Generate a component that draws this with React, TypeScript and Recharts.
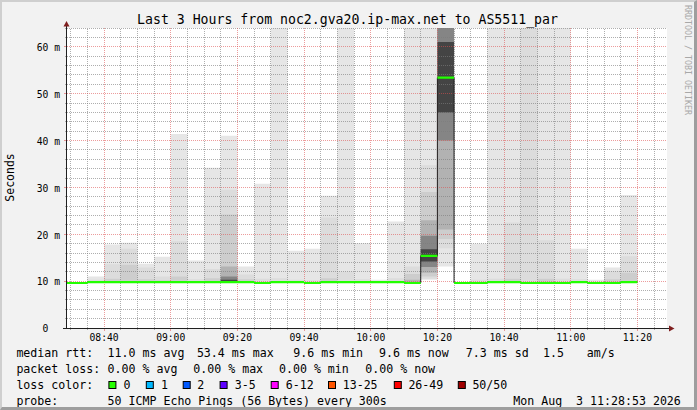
import React from "react";
import { ComposedChart, Area, Line, XAxis, YAxis, CartesianGrid, ReferenceLine } from "recharts";

// ---------- data ----------
const rangeStart = "08:28:53";
const rangeEnd = "11:28:53";
const stepStarts = [
  "08:28:53", "08:35", "08:40", "08:45", "08:50", "08:55", "09:00", "09:05", "09:10", "09:15",
  "09:20", "09:25", "09:30", "09:35", "09:40", "09:45", "09:50", "09:55", "10:00", "10:05",
  "10:10", "10:15", "10:20", "10:25", "10:30", "10:35", "10:40", "10:45", "10:50", "10:55",
  "11:00", "11:05", "11:10", "11:15",
];
const stepEnd = "11:20";

// median rtt (ms)
const medianRtt = [
  9.6, 9.8, 9.8, 9.8, 9.8, 9.8, 9.8, 9.8, 9.8, 9.8,
  9.8, 9.6, 9.8, 9.8, 9.6, 9.8, 9.8, 9.8, 9.8, 9.8,
  9.6, 15.4, 53.4, 9.6, 9.6, 9.8, 9.8, 9.6, 9.6, 9.6,
  9.8, 9.6, 9.6, 9.8,
];

// smoke layers (outer -> inner), [low, high] in ms; null = no band
const smoke1 = [
  [9.5, 9.7], [9.6, 11.0], [9.6, 17.8], [9.6, 18.2], [9.6, 13.7], [9.6, 15.2], [9.6, 41.4], [9.6, 14.4], [9.6, 34.2], [9.6, 41.0],
  [9.6, 13.1], [9.4, 30.8], [9.6, 70], [9.6, 16.5], [9.4, 16.9], [9.6, 28.2], [9.6, 70], [9.6, 18.1], [9.6, 10.3], [9.6, 22.7],
  [9.4, 70], [10.3, 70], [13.1, 90], [9.4, 9.8], [9.4, 18.0], [9.6, 70], [9.6, 70], [9.4, 70], [9.4, 70], [9.4, 70],
  [9.6, 16.9], [9.4, 10.3], [9.4, 12.9], [9.6, 28.4],
];
const smoke2 = [
  null, [9.7, 10.3], [9.7, 13.6], [9.7, 16.9], [9.7, 12.9], [9.7, 11.0], [9.7, 18.5], [9.7, 10.4], [9.7, 12.6], [9.7, 29.5],
  [9.7, 11.4], [9.5, 10.5], [9.7, 10.6], [9.7, 10.3], [9.5, 10.2], [9.7, 23.6], [9.7, 12.0], [9.7, 10.4], null, [9.7, 10.6],
  [9.5, 13.1], [10.5, 34.7], [17, 90], null, [9.5, 10.3], [9.7, 10.5], [9.7, 22.5], [9.5, 70], [9.5, 18.7], [9.5, 10.5],
  [9.7, 10.4], null, [9.5, 12.1], [9.7, 15.3],
];
const smoke3 = [
  null, null, [9.7, 10.5], [9.7, 13.5], [9.7, 10.4], [9.7, 10.2], [9.7, 11.0], null, [9.7, 10.6], [9.7, 24.2],
  [9.7, 10.4], null, null, null, null, [9.7, 10.6], null, null, null, null,
  [9.5, 11.5], [11.0, 29.0], [19, 88], null, null, null, [9.7, 10.5], null, [9.5, 10.5], null,
  null, null, [9.5, 10.4], [9.7, 11.8],
];
const smoke4 = [
  null, null, null, null, null, null, null, null, null, [9.7, 13.1],
  null, null, null, null, null, null, null, null, null, null,
  [9.5, 10.3], [11.8, 23.0], [21, 85], null, null, null, null, null, null, null,
  null, null, null, null,
];
const smoke5 = [
  null, null, null, null, null, null, null, null, null, [9.7, 11.0],
  null, null, null, null, null, null, null, null, null, null,
  null, [13.0, 19.7], [40, 80], null, null, null, null, null, null, null,
  null, null, null, null,
];
const smoke6 = [
  null, null, null, null, null, null, null, null, null, [9.7, 10.3],
  null, null, null, null, null, null, null, null, null, null,
  null, [14.2, 16.8], [46, 61], null, null, null, null, null, null, null,
  null, null, null, null,
];

const yMajorTicks = [0, 10, 20, 30, 40, 50, 60];
const yTickLabels = ["0", "10 m", "20 m", "30 m", "40 m", "50 m", "60 m"];
const yMinorTicks = [2, 4, 6, 8, 12, 14, 16, 18, 22, 24, 26, 28, 32, 34, 36, 38, 42, 44, 46, 48, 52, 54, 56, 58, 62, 64];
const xMajorTicks = ["08:40", "09:00", "09:20", "09:40", "10:00", "10:20", "10:40", "11:00", "11:20"];
const xMinorTicks = [
  "08:30", "08:35", "08:45", "08:50", "08:55", "09:05", "09:10", "09:15", "09:25", "09:30", "09:35",
  "09:45", "09:50", "09:55", "10:05", "10:10", "10:15", "10:25", "10:30", "10:35", "10:45", "10:50",
  "10:55", "11:05", "11:10", "11:15", "11:25",
];

const title = "Last 3 Hours from noc2.gva20.ip-max.net to AS5511_par";
const rttStats = ["11.0 ms avg", "53.4 ms max", "9.6 ms min", "9.6 ms now", "7.3 ms sd", "1.5", "am/s"];
const lossStats = ["0.00 % avg", "0.00 % max", "0.00 % min", "0.00 % now"];
const lossLabels = ["0", "1", "2", "3-5", "6-12", "13-25", "26-49", "50/50"];
const lossColors = ["#26ff00", "#00b8ff", "#0059ff", "#5e00ff", "#ff00ff", "#ff5500", "#ff0000", "#a00000"];
const probeText = "50 ICMP Echo Pings (56 Bytes) every 300s";
const dateText = "Mon Aug  3 11:28:53 2026";

// ---------- layout / style ----------
const MONO = "'DejaVu Sans Mono', monospace";
const GRID = "rgba(125,125,125,0.62)";
const MGRID = "rgba(222,79,79,0.56)";
const smokeColors = ["#e6e6e6", "#dcdcdc", "#cdcdcd", "#b2b2b2", "#858585", "#444444"];
const rttStatX = [107.6, 196.9, 293.3, 379, 465.8, 543, 586.7];
const lossStatX = [107.6, 193.3, 279, 365.3];
const lossBoxX = [108.4, 145.8, 182.7, 219.6, 270.7, 328, 393.8, 457.8];
const lossLabelX = [123.6, 161, 197.3, 234.7, 285.8, 342.7, 408.4, 472.4];
const rowY = [353, 369, 385, 400.5];

const toMin = (s: string) => {
  const p = s.split(":").map(Number);
  return p[0] * 60 + p[1] + (p[2] || 0) / 60 - 480;
};

const layers = [smoke1, smoke2, smoke3, smoke4, smoke5, smoke6];
const rows: any[] = stepStarts.map((s, i) => {
  const r: any = { t: toMin(s), median: medianRtt[i] };
  layers.forEach((L, k) => {
    const v = L[i];
    r["s" + k] = v ? v : [medianRtt[i], medianRtt[i]];
  });
  return r;
});
rows.push({ ...rows[rows.length - 1], t: toMin(stepEnd) });

const greenData: any[] = [];
stepStarts.forEach((s, i) => {
  const t0 = toMin(s);
  const t1 = i < stepStarts.length - 1 ? toMin(stepStarts[i + 1]) : toMin(stepEnd);
  greenData.push({ t: t0, g: medianRtt[i] }, { t: t1, g: medianRtt[i] }, { t: t1, g: null });
});

const xMajorVals = xMajorTicks.map(toMin);
const xMinorVals = xMinorTicks.map(toMin);
const xAllTicks = [...xMinorVals, ...xMajorVals].sort((a, b) => a - b);
const yAllTicks = [...yMajorTicks, ...yMinorTicks].sort((a, b) => a - b);

const XTick = (props: any) => {
  const { x, y, payload } = props;
  const idx = xMajorVals.findIndex((m) => Math.abs(m - payload.value) < 1e-6);
  const major = idx >= 0;
  return (
    <g>
      <line x1={x} x2={x} y1={y} y2={y + (major ? 3 : 2)} stroke={major ? MGRID : GRID} shapeRendering="crispEdges" />
      {major && (
        <text x={x} y={y + 9.5} textAnchor="middle" dominantBaseline="central" fontFamily={MONO} fontSize={9.7} fill="#000">
          {xMajorTicks[idx]}
        </text>
      )}
    </g>
  );
};

const YTick = (props: any) => {
  const { x, y, payload } = props;
  const idx = yMajorTicks.indexOf(payload.value);
  const major = idx >= 0;
  const label = major ? yTickLabels[idx] : "";
  const pad = major && label.indexOf(" ") < 0 ? 11.7 : 0;
  return (
    <g>
      <line x1={x - (major ? 3 : 2)} x2={x} y1={y} y2={y} stroke={major ? MGRID : GRID} shapeRendering="crispEdges" />
      {major && (
        <text x={x - 7 - pad} y={y + 0.8} textAnchor="end" dominantBaseline="central" fontFamily={MONO} fontSize={9.7} fill="#000">
          {label}
        </text>
      )}
    </g>
  );
};

const css = `.recharts-cartesian-grid line, .recharts-reference-line line { shape-rendering: crispEdges; }`;

export default function App() {
  const x0 = toMin(rangeStart);
  const x1 = toMin(rangeEnd);
  return (
    <div style={{ position: "absolute", left: 0, top: 0, width: 697, height: 410, background: "#f2f2f2", overflow: "hidden" }}>
      <style>{css}</style>
      <ComposedChart width={697} height={410} data={rows} margin={{ top: 28, right: 30, bottom: 0, left: 0 }}>
        <CartesianGrid horizontal={false} vertical={false} fill="#ffffff" fillOpacity={1} />
        <XAxis
          type="number"
          dataKey="t"
          domain={[x0, x1]}
          allowDataOverflow
          ticks={xAllTicks}
          interval={0}
          height={82}
          axisLine={false}
          tickLine={false}
          tickSize={0}
          tickMargin={0}
          tick={<XTick />}
        />
        <YAxis
          type="number"
          domain={[0, 64]}
          allowDataOverflow
          ticks={yAllTicks}
          interval={0}
          width={67}
          axisLine={false}
          tickLine={false}
          tickSize={0}
          tickMargin={0}
          tick={<YTick />}
        />
        {layers.map((_, k) => (
          <Area
            key={"s" + k}
            dataKey={"s" + k}
            type="stepAfter"
            stroke="none"
            fill={smokeColors[k]}
            fillOpacity={1}
            dot={false}
            activeDot={false}
            isAnimationActive={false}
          />
        ))}
        {yMinorTicks.map((v) => (
          <ReferenceLine key={"hy" + v} y={v} stroke={GRID} strokeWidth={1} strokeDasharray="1 1" zIndex={150} />
        ))}
        {xMinorVals.map((v) => (
          <ReferenceLine key={"vx" + v} x={v} stroke={GRID} strokeWidth={1} strokeDasharray="1 1" zIndex={150} />
        ))}
        <CartesianGrid
          horizontalValues={yMajorTicks.filter((v) => v > 0)}
          verticalValues={xMajorVals}
          stroke={MGRID}
          strokeDasharray="1 1"
          zIndex={150}
        />
        <Line dataKey="median" type="stepAfter" stroke="#202020" strokeWidth={1} dot={false} activeDot={false} isAnimationActive={false} />
        <Line
          data={greenData}
          dataKey="g"
          type="linear"
          stroke="#22ff00"
          strokeWidth={2.2}
          dot={false}
          activeDot={false}
          connectNulls={false}
          isAnimationActive={false}
        />
      </ComposedChart>

      <svg width={697} height={410} style={{ position: "absolute", left: 0, top: 0, pointerEvents: "none" }}>
        <text x={347.5} y={19} textAnchor="middle" dominantBaseline="central" fontFamily={MONO} fontSize={13.2} fill="#000">
          {title}
        </text>
        <text
          x={10.3}
          y={177.5}
          textAnchor="middle"
          dominantBaseline="central"
          fontFamily={MONO}
          fontSize={11.5}
          fill="#000"
          transform="rotate(-90 10.3 177.5)"
        >
          Seconds
        </text>
        <text
          x={688}
          y={60}
          textAnchor="middle"
          dominantBaseline="central"
          fontFamily={MONO}
          fontSize={8.3}
          fill="#a8a8a8"
          transform="rotate(90 688 60)"
        >
          RRDTOOL / TOBI OETIKER
        </text>

        {/* axes */}
        <line x1={66.5} x2={66.5} y1={25} y2={329} stroke="#202020" strokeWidth={1} />
        <line x1={63} x2={670} y1={328.5} y2={328.5} stroke="#202020" strokeWidth={1} />
        <polygon points="63.5,26.5 69.5,26.5 66.5,21" fill="#7f1f1f" />
        <polygon points="669,325.5 669,331.5 674.5,328.5" fill="#7f1f1f" />

        {/* legend */}
        <g fontFamily={MONO} fontSize={11.6} fill="#000">
          <text x={16.4} y={rowY[0]} dominantBaseline="central">median rtt:</text>
          {rttStats.map((s, i) => (
            <text key={"r" + i} x={rttStatX[i]} y={rowY[0]} dominantBaseline="central">{s}</text>
          ))}
          <text x={16.4} y={rowY[1]} dominantBaseline="central">packet loss:</text>
          {lossStats.map((s, i) => (
            <text key={"l" + i} x={lossStatX[i]} y={rowY[1]} dominantBaseline="central">{s}</text>
          ))}
          <text x={16.4} y={rowY[2]} dominantBaseline="central">loss color:</text>
          {lossLabels.map((s, i) => (
            <g key={"c" + i}>
              <rect x={lossBoxX[i] + 0.5} y={rowY[2] - 3.5} width={7} height={7} fill={lossColors[i]} stroke="#000" strokeWidth={1} />
              <text x={lossLabelX[i]} y={rowY[2]} dominantBaseline="central">{s}</text>
            </g>
          ))}
          <text x={16.4} y={rowY[3]} dominantBaseline="central">probe:</text>
          <text x={107.6} y={rowY[3]} dominantBaseline="central">{probeText}</text>
          <text x={513.3} y={rowY[3]} dominantBaseline="central" style={{ whiteSpace: "pre" }}>{dateText}</text>
        </g>
      </svg>
      <div
        style={{
          position: "absolute",
          left: 0,
          top: 0,
          width: 697,
          height: 410,
          boxSizing: "border-box",
          borderTop: "2px solid #cfcfcf",
          borderLeft: "2px solid #cfcfcf",
          borderRight: "3px solid #9e9e9e",
          borderBottom: "3px solid #9e9e9e",
          pointerEvents: "none",
        }}
      />
    </div>
  );
}
